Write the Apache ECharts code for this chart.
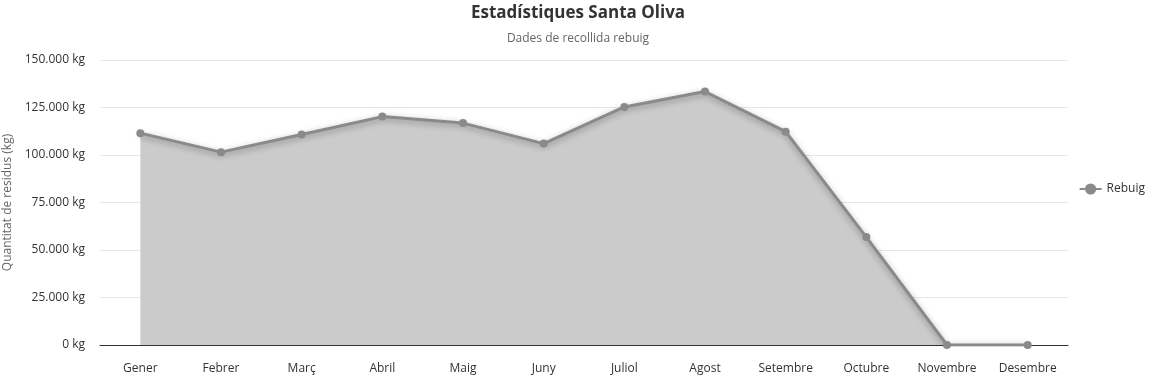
<!DOCTYPE html>
<html>
<head>
<meta charset="utf-8">
<script src="https://cdn.jsdelivr.net/npm/echarts@6/dist/echarts.min.js"></script>
<style>
  html, body { margin: 0; padding: 0; background: #fff; }
  #chart { width: 1156px; height: 378px; }
</style>
</head>
<body>
<div id="chart"></div>
<script>
// mesos i quantitats (kg)
var months = ['Gener', 'Febrer', 'Març', 'Abril', 'Maig', 'Juny', 'Juliol', 'Agost', 'Setembre', 'Octubre', 'Novembre', 'Desembre'];
var rebuig = [111500, 101500, 110800, 120200, 116800, 106000, 125300, 133400, 112300, 56800, 0, 0];

var font = '"Open Sans", "Noto Sans", sans-serif';

var myChart = echarts.init(document.getElementById('chart'));
var option = {
    textStyle: { fontFamily: font },
    title: {
        text: 'Estadístiques Santa Oliva',
        subtext: 'Dades de recollida rebuig',
        left: 'center',
        top: 0,
        itemGap: 11,
        textStyle: { fontFamily: font, fontSize: 17, fontWeight: 'bold', color: '#333' },
        subtextStyle: { fontFamily: font, fontSize: 12, color: '#666' }
    },
    legend: {
        orient: 'vertical',
        right: 6,
        top: 'middle',
        itemWidth: 22,
        textStyle: { fontFamily: font, fontSize: 12, color: '#333' },
        data: ['Rebuig']
    },
    grid: { left: 100, right: 88, top: 60, bottom: 33, outerBoundsMode: 'none', containLabel: false },
    xAxis: {
        type: 'category',
        data: months,
        boundaryGap: true,
        axisTick: { show: false },
        axisLine: { lineStyle: { color: '#333' } },
        axisLabel: { fontFamily: font, fontSize: 12, color: '#333', margin: 18 }
    },
    yAxis: {
        type: 'value',
        min: 0,
        max: 150000,
        interval: 25000,
        name: 'Quantitat de residus (kg)',
        nameLocation: 'middle',
        nameGap: 86,
        nameTextStyle: { fontFamily: font, fontSize: 12, color: '#666' },
        axisLabel: {
            fontFamily: font, fontSize: 12, color: '#333', margin: 15,
            formatter: function (v) {
                return v.toLocaleString('de-DE') + ' kg';
            }
        },
        splitLine: { lineStyle: { color: '#e6e6e6' } }
    },
    series: [{
        name: 'Rebuig',
        type: 'line',
        data: rebuig,
        symbol: 'circle',
        symbolSize: 8,
        itemStyle: { color: '#8a8a8a' },
        lineStyle: {
            color: '#8a8a8a', width: 3,
            shadowColor: 'rgba(0,0,0,0.35)', shadowBlur: 6, shadowOffsetY: 2
        },
        areaStyle: { color: '#cbcbcb', opacity: 1 }
    }]
};
myChart.setOption(option);
</script>
</body>
</html>
